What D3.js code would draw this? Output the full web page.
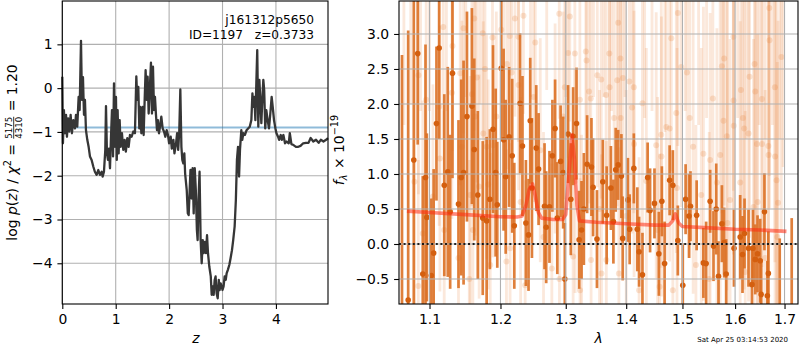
<!DOCTYPE html>
<html>
<head>
<meta charset="utf-8">
<script src="https://cdn.jsdelivr.net/npm/d3@7"></script>
<style>
  body { margin: 0; background: #fff; }
  text { font-family: "DejaVu Sans", sans-serif; }
</style>
</head>
<body>
<script>
/*
 * Redshift fit summary: log p(z) on the left, the spectrum and the model on the right.
 */

var objName = 'j161312p5650';
var objInfo = 'ID=1197   z=0.3733';
var stamp = 'Sat Apr 25 03:14:53 2020';

var zTicks = [0, 1, 2, 3, 4];
var pTicks = [-4, -3, -2, -1, 0, 1];
var lamTicks = [1.1, 1.2, 1.3, 1.4, 1.5, 1.6, 1.7];
var fTicks = [-0.5, 0.0, 0.5, 1.0, 1.5, 2.0, 2.5, 3.0];

var pzThreshold = -0.9;

// [z, log p(z)]
var pzCurve = [
  [0.000, 0.26], [0.012, -1.26], [0.030, -0.50], [0.050, -1.03], [0.070, -0.61], [0.087, -1.11],
  [0.110, -0.69], [0.130, -0.99], [0.156, -0.61], [0.180, -1.03], [0.206, -0.73], [0.237, -0.92],
  [0.256, -0.61], [0.280, -0.88], [0.306, -0.20], [0.325, -0.50], [0.350, 1.08], [0.368, -0.27],
  [0.387, 0.25], [0.406, -0.61], [0.424, -0.27], [0.443, -0.96], [0.468, -1.18], [0.493, -1.34],
  [0.518, -1.56], [0.549, -1.64], [0.580, -1.79], [0.610, -1.91], [0.643, -1.98], [0.674, -1.87],
  [0.705, -1.98], [0.737, -1.91], [0.755, -2.02], [0.780, -1.91], [0.805, -1.41], [0.818, -0.41],
  [0.836, -1.49], [0.855, -1.64], [0.874, -1.38], [0.893, -1.83], [0.910, -1.18], [0.930, -0.50],
  [0.950, -1.56], [0.968, 0.11], [0.986, -1.34], [1.005, -0.20], [1.020, -1.64], [1.036, -0.50],
  [1.055, -1.49], [1.074, -0.73], [1.092, -1.34], [1.117, -1.03], [1.142, -1.41], [1.167, -1.18],
  [1.190, -1.45], [1.217, -1.14], [1.242, -1.34], [1.267, -1.07], [1.298, -1.11], [1.330, -0.99],
  [1.360, -1.03], [1.386, 0.27], [1.404, -0.27], [1.423, 0.03], [1.442, -0.92], [1.460, -0.43],
  [1.480, -1.03], [1.504, -0.43], [1.523, -1.07], [1.542, -0.27], [1.560, 0.41], [1.580, -0.27],
  [1.598, 0.26], [1.617, -0.58], [1.635, -0.12], [1.660, 0.58], [1.679, -0.58], [1.698, 0.49],
  [1.717, -0.50], [1.735, -0.20], [1.754, -0.61], [1.773, -0.96], [1.790, -0.73], [1.810, -1.03],
  [1.830, -0.88], [1.854, -0.65], [1.879, -0.92], [1.904, -0.99], [1.929, -1.11], [1.954, -0.96],
  [1.979, -1.07], [2.000, -1.26], [2.030, -1.11], [2.050, -1.38], [2.080, -1.18], [2.100, -1.49],
  [2.130, -1.26], [2.150, -1.03], [2.170, -1.41], [2.190, -0.99], [2.210, -0.03], [2.230, -1.34],
  [2.247, -1.64], [2.266, -1.72], [2.285, -1.49], [2.300, -1.95], [2.330, -2.33], [2.350, -2.86],
  [2.366, -2.90], [2.385, -2.33], [2.400, -1.87], [2.420, -2.52], [2.440, -1.83], [2.460, -2.86],
  [2.480, -1.83], [2.500, -2.33], [2.520, -3.24], [2.534, -3.47], [2.550, -2.55], [2.570, -1.91],
  [2.590, -3.47], [2.610, -4.00], [2.630, -3.47], [2.647, -3.77], [2.670, -3.51], [2.690, -3.77],
  [2.710, -3.36], [2.728, -3.77], [2.753, -4.08], [2.780, -4.30], [2.797, -4.72], [2.815, -4.53],
  [2.834, -4.72], [2.853, -4.38], [2.870, -4.30], [2.890, -4.69], [2.910, -4.80], [2.930, -4.38],
  [2.946, -4.61], [2.965, -4.46], [2.984, -4.53], [3.000, -4.61], [3.020, -4.53], [3.040, -4.30],
  [3.060, -4.38], [3.077, -4.23], [3.100, -4.15], [3.127, -4.04], [3.150, -3.89], [3.177, -3.70],
  [3.200, -3.47], [3.227, -3.16], [3.250, -2.55], [3.270, -1.64], [3.290, -1.34], [3.310, -2.02],
  [3.327, -1.41], [3.352, -0.96], [3.370, -1.18], [3.390, -1.03], [3.420, -1.07], [3.450, -0.96],
  [3.480, -0.92], [3.510, -0.88], [3.540, -0.73], [3.560, -0.12], [3.577, -0.43], [3.596, -0.20],
  [3.615, -0.73], [3.633, 0.11], [3.650, 0.87], [3.670, -0.88], [3.690, 0.19], [3.708, -0.27],
  [3.727, -0.80], [3.745, -0.27], [3.764, 0.19], [3.780, -0.04], [3.800, -0.92], [3.820, -0.50],
  [3.845, -0.73], [3.870, -0.92], [3.895, -0.58], [3.920, -0.20], [3.940, -0.43], [3.964, -0.73],
  [3.990, -0.92], [4.010, -1.03], [4.040, -1.11], [4.060, -1.18], [4.090, -1.07], [4.110, -1.18],
  [4.140, -1.07], [4.170, -1.26], [4.200, -1.22], [4.240, -1.26], [4.260, -1.03], [4.290, -1.28],
  [4.330, -1.30], [4.375, -1.34], [4.420, -1.34], [4.460, -1.32], [4.510, -1.26], [4.560, -1.25],
  [4.610, -1.25], [4.650, -1.14], [4.700, -1.22], [4.750, -1.18], [4.800, -1.25], [4.840, -1.18],
  [4.890, -1.22], [4.940, -1.18], [4.975, -1.14]
];

// full resolution spectrum [lambda, flux, err], drawn faint
var fullSpec = [
  [1.0798, 0.89, 1.8], [1.0852, 2.41, 1.7], [1.0910, 0.15, 1.9], [1.0955, 2.06, 1.8], [1.1046, 0.68, 1.6],
  [1.1131, 1.96, 1.7], [1.1141, 1.22, 1.9], [1.1187, 3.10, 1.6], [1.1306, 2.16, 1.8], [1.1314, 2.83, 1.5],
  [1.1398, -0.20, 1.7], [1.1422, 2.44, 1.6], [1.1446, 1.39, 1.8], [1.1469, 3.08, 1.5], [1.1563, 0.70, 1.7],
  [1.1587, 2.14, 1.6], [1.1601, 0.20, 1.6], [1.1620, 3.22, 1.6], [1.1634, 1.82, 1.7], [1.1658, 2.38, 1.5],
  [1.1690, 0.82, 1.6], [1.1742, 3.01, 1.5], [1.1750, 1.58, 1.6], [1.1774, 2.50, 1.5], [1.1798, 1.39, 1.6],
  [1.1821, 0.85, 1.5], [1.1883, 2.95, 1.5], [1.1891, 1.41, 1.6], [1.1939, 1.82, 1.5],
  [1.2011, 3.06, 1.5], [1.2088, -0.25, 1.6], [1.2097, 2.57, 1.5], [1.2138, 2.97, 1.4], [1.2142, -0.06, 1.5],
  [1.2165, 2.45, 1.5], [1.2215, 3.22, 1.4], [1.2266, 2.96, 1.5], [1.2270, 2.27, 1.5], [1.2343, 3.26, 1.4],
  [1.2369, -0.59, 1.5], [1.2497, 2.10, 1.5], [1.2523, 2.88, 1.4], [1.2600, 1.34, 1.6], [1.2780, -0.35, 1.5],
  [1.2831, 1.65, 1.5], [1.2897, 3.29, 1.5], [1.2958, 1.82, 1.5], [1.2985, 2.24, 1.6], [1.3037, 2.73, 1.5],
  [1.3065, 3.25, 1.5], [1.3118, -0.18, 1.6], [1.3146, 2.72, 1.5], [1.3227, 2.06, 1.6], [1.3230, -0.66, 1.6],
  [1.3254, -0.04, 1.6], [1.3324, 2.75, 1.6], [1.3335, 2.62, 1.5], [1.3377, 2.18, 1.6], [1.3405, 2.08, 1.6],
  [1.3410, -0.23, 1.7], [1.3513, 2.41, 1.6],
  [1.3578, 2.35, 1.7], [1.3582, -0.42, 1.7], [1.3659, 2.13, 1.7], [1.3663, -0.23, 1.7], [1.3713, 2.72, 1.7],
  [1.3717, 2.24, 1.8], [1.3794, 1.80, 1.8], [1.3847, 2.34, 1.8], [1.3863, 3.16, 1.7], [1.3875, -0.42, 1.8],
  [1.3902, 2.65, 1.7], [1.3906, 1.80, 1.8], [1.3944, 2.37, 1.8], [1.4054, 2.32, 1.8], [1.4101, 1.95, 1.8],
  [1.4132, 2.24, 1.8], [1.4136, 1.43, 1.9], [1.4223, -0.66, 1.9], [1.4282, 2.01, 1.9], [1.4525, 1.41, 1.9],
  [1.4585, -0.61, 1.9], [1.4615, 1.56, 1.9], [1.4619, 1.25, 2.0], [1.4706, 1.67, 1.9], [1.4766, 1.65, 1.9],
  [1.4796, 2.94, 1.9], [1.4824, -0.66, 2.0], [1.4887, 1.87, 2.0], [1.4915, 3.30, 1.9], [1.4977, 2.53, 2.0],
  [1.5083, 2.45, 2.0], [1.5134, 1.80, 2.0], [1.5198, 1.39, 2.1],
  [1.5390, 1.29, 2.1], [1.5518, 1.20, 2.1], [1.5570, 2.08, 2.1], [1.5647, 0.88, 2.2], [1.5710, 1.27, 2.2],
  [1.5743, 2.54, 2.1], [1.5774, 1.76, 2.2], [1.5787, 2.65, 2.1], [1.5839, 1.54, 2.2], [1.5902, 0.63, 2.3],
  [1.5966, 2.96, 2.2], [1.5970, 2.05, 2.2], [1.5974, 1.69, 2.3], [1.6100, 0.88, 2.3], [1.6114, 2.20, 2.3],
  [1.6154, 1.80, 2.3], [1.6180, 1.65, 2.3], [1.6266, 1.58, 2.4], [1.6286, 2.39, 2.3], [1.6366, 0.53, 2.4],
  [1.6386, 2.57, 2.3], [1.6400, 2.18, 2.4], [1.6434, 1.43, 2.4], [1.6534, 2.07, 2.4], [1.6538, 1.43, 2.5],
  [1.6666, 1.40, 2.5], [1.6670, 1.27, 2.5], [1.6686, 3.37, 2.4], [1.6690, 2.91, 2.4], [1.6800, 2.24, 2.5],
  [1.6804, 1.25, 2.6], [1.6834, 0.91, 2.6], [1.6866, 0.59, 2.6], [1.6934, 2.67, 2.5],
  // points whose centre sits above the frame
  [1.066, 3.9, 2.2], [1.075, 4.0, 2.0], [1.088, 3.7, 1.8], [1.100, 3.8, 1.9], [1.123, 3.6, 1.7],
  [1.150, 3.9, 1.8], [1.170, 3.7, 1.7], [1.205, 3.8, 1.6], [1.245, 3.7, 1.6], [1.270, 3.9, 1.7],
  [1.300, 3.7, 1.6], [1.345, 3.8, 1.7], [1.362, 3.9, 1.8], [1.375, 3.7, 1.8], [1.398, 4.0, 1.9],
  [1.432, 3.8, 2.0], [1.445, 3.9, 2.0], [1.468, 3.7, 2.1], [1.505, 4.0, 2.1], [1.530, 3.9, 2.2],
  [1.545, 4.1, 2.3], [1.585, 3.8, 2.3], [1.605, 4.2, 2.4], [1.622, 4.0, 2.5], [1.648, 4.2, 2.5],
  [1.660, 4.1, 2.6], [1.675, 4.3, 2.6], [1.690, 4.2, 2.7], [1.697, 3.8, 2.7],
  [1.085, -0.6, 1.8], [1.120, 0.2, 1.7], [1.155, -0.5, 1.7], [1.185, -0.3, 1.6], [1.230, 0.6, 1.5],
  [1.265, 0.1, 1.5], [1.290, -0.5, 1.5], [1.315, 0.9, 1.6], [1.355, 0.5, 1.7], [1.400, 0.4, 1.8],
  [1.435, 0.9, 1.9], [1.455, 0.2, 1.9], [1.490, 0.8, 2.0], [1.525, -0.3, 2.0], [1.535, 0.7, 2.1],
  [1.550, -0.5, 2.1], [1.585, 0.3, 2.2], [1.620, -0.4, 2.3], [1.645, 0.6, 2.4], [1.660, -0.2, 2.4],
  [1.685, 0.1, 2.5]
];

// binned spectrum [lambda, flux, err]
var binnedSpec = [
  [1.0635, -1.00, 3.70], [1.0716, -0.80, 3.85], [1.0790, 1.20, 2.60], [1.0842, 2.72, 1.30], [1.0910, -0.43, 1.40],
  [1.0946, 0.95, 1.90], [1.0964, 0.38, 1.20], [1.1024, -0.45, 1.10], [1.1056, -0.13, 1.20], [1.1094, 1.72, 1.10],
  [1.1131, 2.80, 1.30], [1.1201, 0.84, 1.30], [1.1249, 1.03, 1.50], [1.1282, 0.46, 1.10], [1.1314, 2.44, 1.50],
  [1.1398, 0.57, 1.20], [1.1436, 0.95, 1.40], [1.1469, 1.02, 1.60], [1.1517, 1.82, 1.50], [1.1587, 1.97, 1.40],
  [1.1620, 1.35, 1.30], [1.1671, 0.70, 1.20], [1.1742, 0.37, 1.10], [1.1798, 0.33, 1.20], [1.1845, 0.64, 1.00],
  [1.1891, 1.64, 1.20], [1.1929, 1.02, 1.20], [1.1953, 0.56, 0.90],
  [1.2011, 2.51, 1.00], [1.2046, 1.49, 1.30], [1.2077, 0.96, 1.10], [1.2128, 1.53, 1.00], [1.2174, 1.26, 1.10],
  [1.2205, 0.26, 0.90], [1.2292, 2.01, 1.00], [1.2328, 1.40, 1.00], [1.2380, 0.30, 0.90], [1.2420, 0.13, 0.80],
  [1.2446, 1.76, 0.90], [1.2472, 0.80, 1.00], [1.2538, 1.37, 0.90], [1.2574, 1.07, 0.80], [1.2666, 0.54, 0.90],
  [1.2692, 0.24, 0.80], [1.2743, 0.53, 0.80], [1.2789, 1.26, 0.80], [1.2831, 1.65, 0.70], [1.2866, 0.37, 0.80],
  [1.2918, 1.18, 0.80], [1.2958, 1.02, 0.80], [1.2985, -0.50, 0.80], [1.3037, 1.57, 0.70], [1.3081, 0.64, 0.80],
  [1.3118, 1.54, 0.70], [1.3173, 1.72, 0.80], [1.3215, 0.06, 0.70], [1.3254, 0.20, 0.70], [1.3292, 0.50, 0.80],
  [1.3345, 1.14, 0.70], [1.3416, 1.10, 0.70], [1.3443, 0.81, 0.70], [1.3507, 0.07, 0.70],
  [1.3604, 0.89, 0.60], [1.3669, 0.41, 0.70], [1.3740, 0.80, 0.60], [1.3782, 0.32, 0.60], [1.3821, 1.06, 0.60],
  [1.3863, 1.13, 0.50], [1.3918, 0.97, 0.60], [1.3940, 0.08, 0.60], [1.4029, 0.63, 0.60], [1.4060, 0.21, 0.50],
  [1.4132, 1.08, 0.50], [1.4192, 0.21, 0.60], [1.4223, -0.11, 0.50], [1.4282, -0.44, 0.60], [1.4373, 0.95, 0.50],
  [1.4416, 0.48, 0.60], [1.4494, 0.58, 0.50], [1.4572, -0.14, 0.60], [1.4626, 0.61, 0.50], [1.4675, -0.28, 0.60],
  [1.4766, 0.91, 0.50], [1.4824, 0.84, 0.50], [1.4915, 0.05, 0.50], [1.5006, -0.59, 0.60], [1.5058, 0.64, 0.50],
  [1.5121, 0.40, 0.60], [1.5148, 0.54, 0.50], [1.5263, 0.41, 0.50],
  [1.5390, -0.27, 0.50], [1.5442, -0.28, 0.60], [1.5518, 0.61, 0.45], [1.5582, -0.03, 0.50], [1.5634, 0.50, 0.65],
  [1.5678, -0.46, 0.50], [1.5743, 0.29, 0.55], [1.5787, 0.02, 0.50], [1.5826, -0.43, 0.50], [1.5979, -0.06, 0.55],
  [1.6100, 0.10, 0.60], [1.6146, -0.15, 0.55], [1.6186, 0.15, 0.50], [1.6266, -0.06, 0.55], [1.6334, -0.58, 0.50],
  [1.6354, -0.06, 0.55], [1.6400, -0.22, 0.50], [1.6446, -0.14, 0.55], [1.6500, -0.24, 0.60], [1.6520, -0.72, 0.50],
  [1.6586, 0.46, 0.55], [1.6646, -0.74, 0.50], [1.6666, -0.42, 0.60], [1.6900, -1.00, 1.08], [1.7150, -1.00, 1.37]
];

var modelWave = [1.070, 1.100, 1.150, 1.200, 1.225, 1.232, 1.238, 1.243, 1.248, 1.252, 1.257, 1.262,
  1.280, 1.295, 1.300, 1.305, 1.310, 1.314, 1.318, 1.322, 1.350, 1.400, 1.450, 1.475, 1.482, 1.487,
  1.493, 1.500, 1.550, 1.600, 1.650, 1.704];
var modelFlux = [0.47, 0.45, 0.42, 0.39, 0.385, 0.40, 0.55, 0.78, 0.86, 0.70, 0.45, 0.37,
  0.35, 0.35, 0.42, 1.00, 1.56, 1.20, 0.55, 0.33, 0.31, 0.29, 0.27, 0.27, 0.33, 0.43,
  0.30, 0.25, 0.23, 0.21, 0.20, 0.18];

var svg = d3.select('body').append('svg')
  .attr('width', 800)
  .attr('height', 350);

var FS = 13.9;

function drawGrid(g, x, y, xTicks, yTicks) {
  /* Grey grid lines at the tick positions. */
  var xr = x.range(), yr = y.range();
  g.append('g').selectAll('line').data(xTicks).enter().append('line')
    .attr('class', 'grid')
    .attr('x1', function(d) { return x(d); }).attr('x2', function(d) { return x(d); })
    .attr('y1', yr[0]).attr('y2', yr[1]);
  g.append('g').selectAll('line').data(yTicks).enter().append('line')
    .attr('class', 'grid')
    .attr('y1', function(d) { return y(d); }).attr('y2', function(d) { return y(d); })
    .attr('x1', xr[0]).attr('x2', xr[1]);
  g.selectAll('.grid').attr('stroke', '#b0b0b0').attr('stroke-width', 1.1);
}

function drawAxes(g, x, y, xTicks, yTicks, xFmt, yFmt) {
  var xr = x.range(), yr = y.range();
  var ax = g.append('g')
    .attr('transform', 'translate(0,' + yr[0] + ')')
    .call(d3.axisBottom(x).tickValues(xTicks).tickFormat(xFmt).tickSize(4.9).tickSizeOuter(0).tickPadding(4.9));
  var ay = g.append('g')
    .attr('transform', 'translate(' + xr[0] + ',0)')
    .call(d3.axisLeft(y).tickValues(yTicks).tickFormat(yFmt).tickSize(4.9).tickSizeOuter(0).tickPadding(4.9));
  [ax, ay].forEach(function(a) {
    a.select('.domain').remove();
    a.selectAll('line').attr('stroke', '#000').attr('stroke-width', 1.1);
    a.selectAll('text').attr('font-size', FS).attr('fill', '#000').attr('font-family', 'DejaVu Sans');
  });
  g.append('rect')
    .attr('x', xr[0]).attr('y', yr[1])
    .attr('width', xr[1] - xr[0]).attr('height', yr[0] - yr[1])
    .attr('fill', 'none').attr('stroke', '#000').attr('stroke-width', 1.1);
}

function mathLabel(g, pieces, size) {
  /* Lay out a rotated label from pieces: italic, sup, sub and a stacked fraction. */
  var inner = g.append('g');
  var x = 0;
  pieces.forEach(function(p) {
    if (p.frac) {
      var fs = size * 0.62;
      var num = inner.append('text').attr('y', -5.2).attr('font-size', fs).text(p.frac[0]);
      var den = inner.append('text').attr('y', 4.4).attr('font-size', fs).text(p.frac[1]);
      var wn = num.node().getComputedTextLength(), wd = den.node().getComputedTextLength();
      var w = Math.max(wn, wd);
      num.attr('x', x + 1 + (w - wn) / 2);
      den.attr('x', x + 1 + (w - wd) / 2);
      inner.append('line')
        .attr('x1', x + 1).attr('x2', x + 1 + w)
        .attr('y1', -3.6).attr('y2', -3.6)
        .attr('stroke', '#000').attr('stroke-width', 0.8);
      x += w + 2;
      return;
    }
    var t = inner.append('text')
      .attr('x', x)
      .attr('font-size', (p.sup || p.sub) ? size * 0.7 : size)
      .attr('y', p.sup ? -size * 0.42 : (p.sub ? size * 0.22 : 0))
      .attr('font-style', p.i ? 'italic' : 'normal')
      .style('white-space', 'pre')
      .text(p.t);
    x += t.node().getComputedTextLength() + (p.gap || 0);
  });
  inner.attr('transform', 'translate(' + (-x / 2) + ',0)');
}

// ---- left panel: log p(z)
var xz = d3.scaleLinear().domain([0, 4.975]).range([62.3, 328]);
var yp = d3.scaleLinear().domain([-4.93, 1.99]).range([304, 1]);

var gl = svg.append('g');
drawGrid(gl, xz, yp, zTicks, pTicks);

gl.append('line')
  .attr('x1', xz.range()[0]).attr('x2', xz.range()[1])
  .attr('y1', yp(pzThreshold)).attr('y2', yp(pzThreshold))
  .attr('stroke', '#1f77b4').attr('stroke-opacity', 0.5).attr('stroke-width', 2.1);

gl.append('path')
  .datum(pzCurve)
  .attr('fill', 'none')
  .attr('stroke', '#363636')
  .attr('stroke-width', 2.3)
  .attr('stroke-linejoin', 'round')
  .attr('d', d3.line().x(function(d) { return xz(d[0]); }).y(function(d) { return yp(d[1]); }));

drawAxes(gl, xz, yp, zTicks, pTicks, d3.format('d'), d3.format('d'));

gl.append('text').attr('x', 314).attr('y', 24).attr('text-anchor', 'end').attr('font-size', 12.2).text(objName);
gl.append('text').attr('x', 314).attr('y', 39).attr('text-anchor', 'end').attr('font-size', 12.2)
  .style('white-space', 'pre').text(objInfo);

gl.append('text').attr('x', xz(2.5)).attr('y', 343).attr('text-anchor', 'middle')
  .attr('font-size', FS).attr('font-style', 'italic').text('z');

mathLabel(svg.append('g').attr('transform', 'translate(17.3,152.5) rotate(-90)'), [
  { t: 'log ' }, { t: 'p', i: 1 }, { t: '(' }, { t: 'z', i: 1 }, { t: ') / ' },
  { t: 'χ', i: 1 }, { t: '2', sup: 1 }, { t: ' = ' },
  { frac: ['5175', '4310'] }, { t: ' = 1.20' }
], FS);

// ---- right panel: spectrum
var xl = d3.scaleLog().domain([1.0596, 1.7283]).range([399, 798]);
var yf = d3.scaleLinear().domain([-0.857, 3.471]).range([304, 1]);

var gr = svg.append('g');
svg.append('clipPath').attr('id', 'clipR').append('rect')
  .attr('x', 399).attr('y', 1).attr('width', 399).attr('height', 303);

var data = gr.append('g').attr('clip-path', 'url(#clipR)');

data.append('g').selectAll('line').data(fullSpec).enter().append('line')
  .attr('x1', function(d) { return xl(d[0]); }).attr('x2', function(d) { return xl(d[0]); })
  .attr('y1', function(d) { return yf(d[1] - d[2]); }).attr('y2', function(d) { return yf(d[1] + d[2]); })
  .attr('stroke', '#e8772a').attr('stroke-opacity', 0.17).attr('stroke-width', 2.8);
data.append('g').selectAll('circle').data(fullSpec).enter().append('circle')
  .attr('cx', function(d) { return xl(d[0]); }).attr('cy', function(d) { return yf(d[1]); })
  .attr('r', 3).attr('fill', '#e8772a').attr('fill-opacity', 0.2);

data.append('g').selectAll('line').data(binnedSpec).enter().append('line')
  .attr('x1', function(d) { return xl(d[0]); }).attr('x2', function(d) { return xl(d[0]); })
  .attr('y1', function(d) { return yf(d[1] - d[2]); }).attr('y2', function(d) { return yf(d[1] + d[2]); })
  .attr('stroke', '#db6d20').attr('stroke-opacity', 0.88).attr('stroke-width', 2.7);

drawGrid(gr, xl, yf, lamTicks, fTicks);

data.append('g').selectAll('circle').data(binnedSpec).enter().append('circle')
  .attr('cx', function(d) { return xl(d[0]); }).attr('cy', function(d) { return yf(d[1]); })
  .attr('r', 2.8).attr('fill', '#d45f0f');

var model = modelWave.map(function(w, i) { return [w, modelFlux[i]]; });
gr.append('path')
  .datum(model)
  .attr('fill', 'none')
  .attr('stroke', '#ff2a10')
  .attr('stroke-opacity', 0.55)
  .attr('stroke-width', 3.6)
  .attr('stroke-linejoin', 'round')
  .attr('d', d3.line().x(function(d) { return xl(d[0]); }).y(function(d) { return yf(d[1]); }));

gr.append('line')
  .attr('x1', 399).attr('x2', 798)
  .attr('y1', yf(0)).attr('y2', yf(0))
  .attr('stroke', '#000').attr('stroke-opacity', 0.85)
  .attr('stroke-width', 2).attr('stroke-dasharray', '2,2.6');

drawAxes(gr, xl, yf, lamTicks, fTicks, d3.format('.1f'), d3.format('.1f'));

gr.append('text').attr('x', (399 + 798) / 2).attr('y', 343).attr('text-anchor', 'middle')
  .attr('font-size', FS).attr('font-style', 'italic').text('λ');

mathLabel(svg.append('g').attr('transform', 'translate(344,150) rotate(-90)'), [
  { t: 'f', i: 1 }, { t: 'λ', i: 1, sub: 1, gap: 1 }, { t: ' × 10' }, { t: '−19', sup: 1 }
], FS);

svg.append('text').attr('x', 788).attr('y', 342).attr('text-anchor', 'end')
  .attr('font-size', 7).text(stamp);
</script>
</body>
</html>
